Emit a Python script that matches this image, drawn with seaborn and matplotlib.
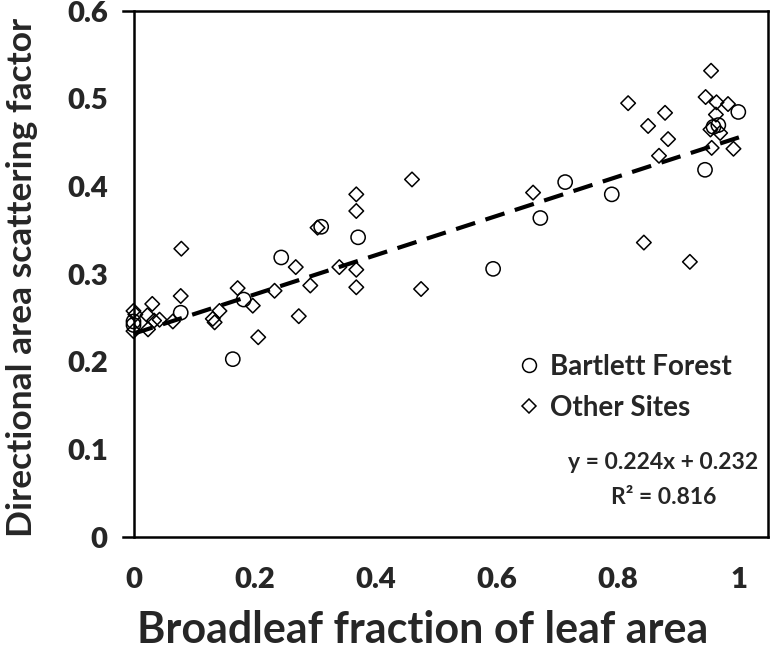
import numpy as np
import pandas as pd
import matplotlib
matplotlib.use('Agg')
import matplotlib.pyplot as plt
import seaborn as sns
from matplotlib.ticker import MultipleLocator
from matplotlib.lines import Line2D

# Bartlett Forest (open circles)
bartlett_x = [0.0, 0.0, 0.078, 0.164, 0.182, 0.244, 0.310, 0.371, 0.594,
              0.672, 0.713, 0.790, 0.944, 0.958, 0.966, 0.999]
bartlett_y = [0.246, 0.242, 0.256, 0.203, 0.271, 0.319, 0.354, 0.342, 0.306,
              0.364, 0.405, 0.391, 0.419, 0.468, 0.470, 0.485]

# Other sites (open diamonds)
other_x = [0.0, 0.0, 0.003, 0.023, 0.031, 0.034, 0.024, 0.043, 0.065, 0.078,
           0.079, 0.131, 0.134, 0.142, 0.172, 0.197, 0.206, 0.233, 0.268,
           0.273, 0.292, 0.304, 0.340, 0.368, 0.368, 0.368, 0.368, 0.460,
           0.475, 0.660, 0.817, 0.843, 0.850, 0.868, 0.878, 0.883, 0.919,
           0.945, 0.954, 0.953, 0.955, 0.962, 0.963, 0.969, 0.982, 0.991]
other_y = [0.258, 0.235, 0.254, 0.253, 0.266, 0.247, 0.237, 0.248, 0.246, 0.275,
           0.329, 0.249, 0.245, 0.258, 0.284, 0.264, 0.228, 0.281, 0.308,
           0.252, 0.287, 0.353, 0.308, 0.391, 0.372, 0.305, 0.285, 0.408,
           0.283, 0.393, 0.495, 0.336, 0.469, 0.435, 0.484, 0.454, 0.314,
           0.502, 0.532, 0.465, 0.444, 0.482, 0.496, 0.461, 0.494, 0.443]

# linear trendline from the chart
slope = 0.224
intercept = 0.232
r_squared = 0.816
trend_x = [0.0, 1.0]

sns.set_style('white')
plt.rcParams['font.family'] = ['Lato', 'DejaVu Sans']
plt.rcParams['font.weight'] = 'bold'

fig = plt.figure(figsize=(7.73, 6.55), dpi=100)
ax = fig.add_axes([0.159, 0.180, 0.8345, 0.803])

sns.scatterplot(x=other_x, y=other_y, marker='D', s=55, facecolor='none',
                edgecolor='black', linewidth=1.1, ax=ax, zorder=3)
sns.scatterplot(x=bartlett_x, y=bartlett_y, marker='o', s=105, facecolor='none',
                edgecolor='black', linewidth=1.1, ax=ax, zorder=3)

trend = pd.DataFrame({'x': trend_x, 'y': [slope * v + intercept for v in trend_x]})
sns.lineplot(data=trend, x='x', y='y', color='black', linewidth=3,
             ax=ax, zorder=4)
ax.lines[-1].set_dashes([4.8, 2.6])

ax.set_xlim(-0.0175, 1.048)
ax.set_ylim(0, 0.6)

# axis styling (Excel look: y axis crosses at x = 0)
ax.spines['left'].set_position(('data', 0))
for side in ['left', 'right', 'top', 'bottom']:
    ax.spines[side].set_linewidth(1.8)
    ax.spines[side].set_color('black')

ax.xaxis.set_major_locator(MultipleLocator(0.2))
ax.xaxis.set_minor_locator(MultipleLocator(0.05))
ax.yaxis.set_major_locator(MultipleLocator(0.1))
ax.yaxis.set_minor_locator(MultipleLocator(0.02))
ax.xaxis.set_major_formatter(lambda v, p: f'{v:g}')
ax.yaxis.set_major_formatter(lambda v, p: f'{v:g}')

ax.tick_params(which='major', direction='inout', length=13, width=1.5,
               labelsize=21, color='black')
ax.tick_params(which='minor', direction='in', length=5, width=1.5, color='black')
ax.tick_params(axis='x', which='major', pad=15)
ax.tick_params(axis='y', which='major', pad=12)
ax.tick_params(which='both', top=False, right=False)
for lab in ax.get_xticklabels() + ax.get_yticklabels():
    lab.set_fontweight('heavy')

ax.set_xlabel('Broadleaf fraction of leaf area', fontsize=31, fontweight='bold', va='center')
ax.xaxis.set_label_coords(0.464, -0.177)
ax.set_ylabel('Directional area scattering factor', fontsize=25.5, fontweight='bold', va='center')
ax.yaxis.set_label_coords(-0.156, 0.494)

handles = [
    Line2D([], [], marker='o', linestyle='none', markerfacecolor='none',
           markeredgecolor='black', markersize=10, markeredgewidth=1.1),
    Line2D([], [], marker='D', linestyle='none', markerfacecolor='none',
           markeredgecolor='black', markersize=7, markeredgewidth=1.1),
]
ax.legend(handles, ['Bartlett Forest', 'Other Sites'], loc='upper left',
          bbox_to_anchor=(0.586, 0.375), frameon=False, fontsize=20,
          handletextpad=0.25, labelspacing=0.55, borderpad=0, handlelength=1.0)

ax.text(0.838, 0.141, f'y = {slope}x + {intercept}', transform=ax.transAxes,
        ha='center', va='center', fontsize=16.5, fontweight='bold')
ax.text(0.838, 0.076, f'R² = {r_squared}', transform=ax.transAxes,
        ha='center', va='center', fontsize=16.5, fontweight='bold')

fig.savefig('out.png', dpi=100)
